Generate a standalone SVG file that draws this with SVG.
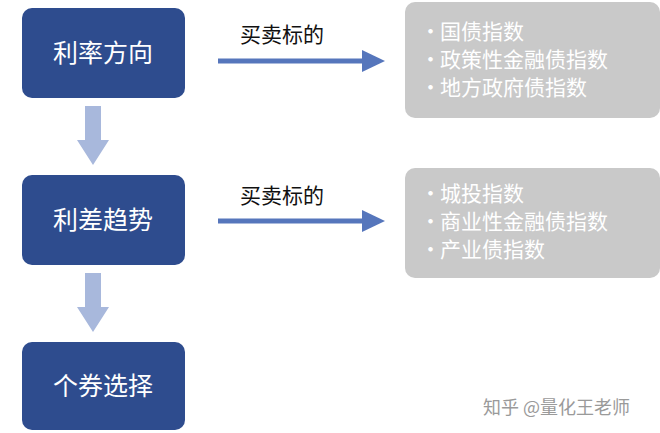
<svg xmlns="http://www.w3.org/2000/svg" width="660" height="433" viewBox="0 0 660 433">
<style>
.box{fill:#2E4C8E}
.bt{fill:#fff;font-family:"Noto Sans CJK SC",sans-serif;font-size:25px;text-anchor:middle}
.gb{fill:#C9C9C9}
.gt{fill:#fff;font-family:"Noto Sans CJK SC",sans-serif;font-size:21px}
.lab{fill:#111;font-family:"Noto Sans CJK SC",sans-serif;font-size:21px}
.da{fill:#A8B8DC}
.ra{stroke:#5676BC;stroke-width:5}
</style>
<rect width="660" height="433" fill="#fff"/>
<g id="n1"><rect class="box" x="22" y="8" width="163" height="90" rx="10"/><text class="bt" x="103" y="62">利率方向</text></g>
<g id="n2"><rect class="box" x="22" y="175" width="163" height="90" rx="10"/><text class="bt" x="103" y="229">利差趋势</text></g>
<g id="n3"><rect class="box" x="22" y="342" width="163" height="88" rx="10"/><text class="bt" x="103" y="395">个券选择</text></g>
<g id="g1"><rect class="gb" x="405" y="2" width="255" height="116" rx="10"/>
<text class="gt" x="420" y="39">•</text><text class="gt" x="440" y="39">国债指数</text>
<text class="gt" x="420" y="67">•</text><text class="gt" x="440" y="67">政策性金融债指数</text>
<text class="gt" x="420" y="95">•</text><text class="gt" x="440" y="95">地方政府债指数</text></g>
<g id="g2"><rect class="gb" x="405" y="168" width="255" height="110" rx="10"/>
<text class="gt" x="420" y="201">•</text><text class="gt" x="440" y="201">城投指数</text>
<text class="gt" x="420" y="229">•</text><text class="gt" x="440" y="229">商业性金融债指数</text>
<text class="gt" x="420" y="257">•</text><text class="gt" x="440" y="257">产业债指数</text></g>
<g id="connectors">
<path class="da" d="M85 106H101V140H109L93 165L77 140H85Z"/>
<path class="da" d="M85 273H101V307H109L93 332L77 307H85Z"/>
<line class="ra" x1="218" y1="61" x2="368" y2="61"/><path d="M362 50L385 61L362 72Z" fill="#5676BC"/>
<line class="ra" x1="218" y1="221" x2="368" y2="221"/><path d="M362 210L385 221L362 232Z" fill="#5676BC"/>
<text class="lab" x="240" y="42">买卖标的</text>
<text class="lab" x="240" y="203">买卖标的</text>
</g>
<text x="483" y="414" fill="#9a9a9a" font-family="Noto Sans CJK SC,sans-serif" font-size="18">知乎 @量化王老师</text>
</svg>
